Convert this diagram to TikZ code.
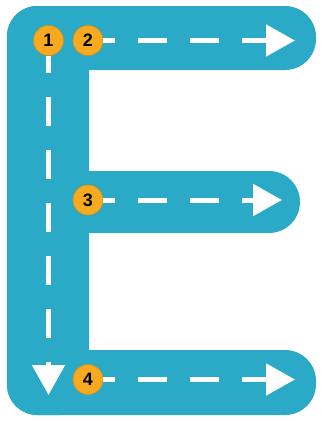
\documentclass[tikz,border=0pt]{standalone}
\usepackage{fontspec}
\setmainfont{Liberation Sans}
\usetikzlibrary{arrows.meta}
\definecolor{eteal}{HTML}{2AAAC6}
\definecolor{eorange}{HTML}{F7AA1F}
\tikzset{
  ebar/.style={fill=eteal, draw=none},
  numdot/.style={circle, fill=eorange, draw=eorange!85!black, line width=0.6pt, minimum size=30pt, inner sep=0pt, font=\bfseries\fontsize{18}{18}\selectfont, text=black},
  dashline/.style={draw=white, line width=5pt, dash pattern=on 29pt off 23pt, dash phase=17pt, -{Triangle[length=29pt,width=31pt]}},
  vdashline/.style={dashline, dash pattern=on 29pt off 24pt, dash phase=11.5pt, -{Triangle[length=30pt,width=32pt]}}
}
\begin{document}
\begin{tikzpicture}[x=1pt,y=-1pt]
\useasboundingbox (0,0) rectangle (323,421);
% the letter E
\fill[ebar, rounded corners=31pt] (7,6) rectangle (316,70);
\fill[ebar, rounded corners=30pt] (7,6) rectangle (89,415);
\fill[ebar, rounded corners=31pt] (50,171) rectangle (300,233);
\fill[ebar, rounded corners=31pt] (7,350) rectangle (316,415);
% numbered dots
\node[numdot] (c1) at (48.5,40.5) {1};
\node[numdot] (c2) at (88,40.5) {2};
\node[numdot] (c3) at (88,200) {3};
\node[numdot] (c4) at (88,379.5) {4};
% arrow ends
\coordinate (e1) at (48.5,395);
\coordinate (e2) at (295,40.5);
\coordinate (e3) at (282,200);
\coordinate (e4) at (295,379.5);
% dashed arrows
\draw[vdashline] (c1) -- (e1);
\draw[dashline] (c2) -- (e2);
\draw[dashline] (c3) -- (e3);
\draw[dashline] (c4) -- (e4);
\end{tikzpicture}
\end{document}
